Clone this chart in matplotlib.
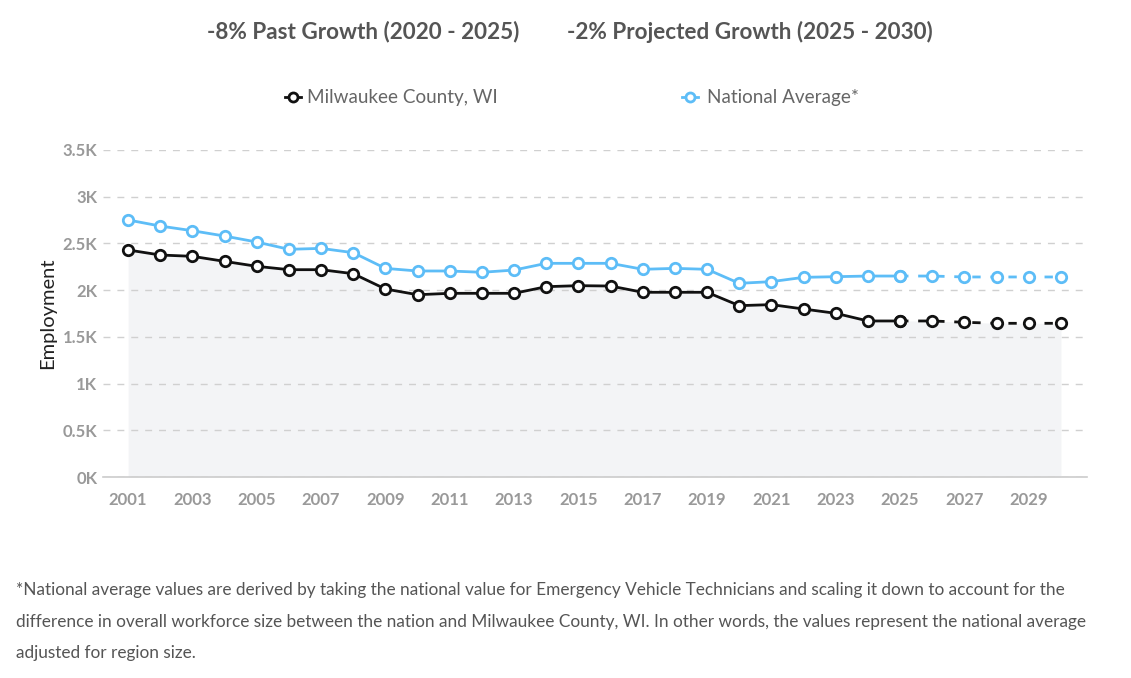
import matplotlib.pyplot as plt

plt.rcParams['font.family'] = ['Lato', 'DejaVu Sans']

years = list(range(2001, 2031))
milwaukee = [2430, 2376, 2362, 2308, 2255, 2219, 2219, 2176, 2012, 1951,
             1966, 1966, 1966, 2037, 2048, 2044, 1977, 1977, 1977, 1834,
             1845, 1798, 1752, 1670, 1670, 1670, 1656, 1645, 1645, 1645]
national = [2751, 2686, 2636, 2579, 2515, 2437, 2447, 2401, 2233, 2205,
            2205, 2191, 2215, 2287, 2287, 2287, 2223, 2233, 2223, 2073,
            2091, 2137, 2144, 2151, 2151, 2151, 2141, 2141, 2141, 2141]
yticks = [0, 500, 1000, 1500, 2000, 2500, 3000, 3500]
ytick_labels = ['0K', '0.5K', '1K', '1.5K', '2K', '2.5K', '3K', '3.5K']
xticks = list(range(2001, 2031, 2))
split = years.index(2025)

black = '#111111'
blue = '#5dbdf7'

fig = plt.figure(figsize=(11.31, 6.78), dpi=100)
ax = fig.add_axes([103/1131, 1-477/678, 984/1131, 327/678])

ax.fill_between(years, milwaukee, 0, color='#f3f4f6', zorder=0, linewidth=0)

mk = dict(marker='o', markersize=7.5, markerfacecolor='white', markeredgewidth=2, linewidth=2)
ax.plot(years[:split+1], national[:split+1], color=blue, zorder=3, **mk)
ax.plot(years[split:], national[split:], color=blue, linestyle=(0, (3, 3.5)), zorder=3, **mk)
ax.plot(years[:split+1], milwaukee[:split+1], color=black, zorder=4, **mk)
ax.plot(years[split:], milwaukee[split:], color=black, linestyle=(0, (3, 3.5)), zorder=4, **mk)

ax.set_xlim(2000.22, 2030.81)
ax.set_ylim(0, 3500)
ax.set_yticks(yticks)
ax.set_yticklabels(ytick_labels)
ax.set_xticks(xticks)
ax.grid(axis='y', color='#d0d0d0', linestyle=(0, (5, 5)), linewidth=1, zorder=1)
for s in ['top', 'right', 'left']:
    ax.spines[s].set_visible(False)
ax.spines['bottom'].set_color('#cccccc')
ax.spines['bottom'].set_linewidth(1.2)
ax.tick_params(axis='y', length=0, pad=4, labelsize=12, labelcolor='#999999')
ax.tick_params(axis='x', length=0, pad=11, labelsize=12, labelcolor='#999999')
for lbl in ax.get_xticklabels() + ax.get_yticklabels():
    lbl.set_fontweight('bold')
ax.set_ylabel('Employment', fontsize=14.5, color='#222222', labelpad=5)

fig.text(363/1131, 1-32/678, '-8% Past Growth (2020 - 2025)', ha='center', va='center',
         fontsize=16.2, fontweight='bold', color='#555555')
fig.text(750/1131, 1-32/678, '-2% Projected Growth (2025 - 2030)', ha='center', va='center',
         fontsize=16.2, fontweight='bold', color='#555555')

# legend drawn by hand
for xm, col, txt, xt in [(293, black, 'Milwaukee County, WI', 307), (690, blue, 'National Average*', 707)]:
    fig.lines.append(plt.Line2D([(xm-8)/1131, (xm+8)/1131], [1-97/678]*2, transform=fig.transFigure,
                                color=col, linewidth=2))
    fig.lines.append(plt.Line2D([xm/1131], [1-97/678], transform=fig.transFigure, color=col,
                                marker='o', markersize=6.5, markerfacecolor='white', markeredgewidth=2))
    fig.text(xt/1131, 1-97/678, txt, ha='left', va='center', fontsize=13.6, color='#666666')

note = ("*National average values are derived by taking the national value for Emergency Vehicle Technicians and scaling it down to account for the\n"
        "difference in overall workforce size between the nation and Milwaukee County, WI. In other words, the values represent the national average\n"
        "adjusted for region size.")
fig.text(16/1131, 1-582/678, note, ha='left', va='top', fontsize=12.45, color='#555555', linespacing=2.2)

fig.savefig('out.png', dpi=100)
